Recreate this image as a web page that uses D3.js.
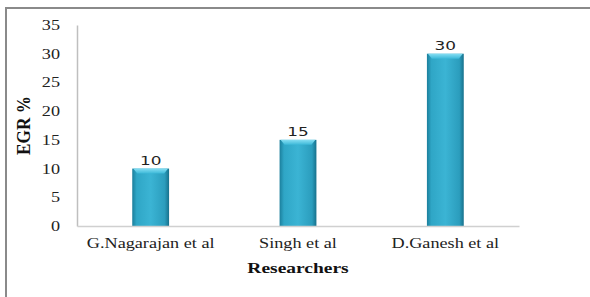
<!DOCTYPE html>
<html>
<head>
<meta charset="utf-8">
<script src="https://cdn.jsdelivr.net/npm/d3@7"></script>
<style>
  html, body { margin: 0; padding: 0; background: #fff; }
  svg { display: block; }
</style>
</head>
<body>
<div id="chart"></div>
<script>
// chart data
const researchers = ['G.Nagarajan et al', 'Singh et al', 'D.Ganesh et al'];
const egrValues = [10, 15, 30];
const yTicks = [0, 5, 10, 15, 20, 25, 30, 35];

const W = 590, H = 297;
const margin = { top: 25, right: 71, bottom: 71, left: 77 };
const width = W - margin.left - margin.right;
const height = H - margin.top - margin.bottom;
const SERIF = '"Liberation Serif", "DejaVu Serif", serif';

// the source text looks widened, so stretch it horizontally
const STRETCH = 1.3;

const svg = d3.select('#chart').append('svg')
  .attr('width', W)
  .attr('height', H);

// bar gradients
const defs = svg.append('defs');
const grad = defs.append('linearGradient').attr('id', 'barGrad')
  .attr('x1', 0).attr('x2', 1).attr('y1', 0).attr('y2', 0);
grad.append('stop').attr('offset', '0%').attr('stop-color', '#1b7f9c');
grad.append('stop').attr('offset', '12%').attr('stop-color', '#2fa6c6');
grad.append('stop').attr('offset', '50%').attr('stop-color', '#3bb4d4');
grad.append('stop').attr('offset', '88%').attr('stop-color', '#2b9dbd');
grad.append('stop').attr('offset', '100%').attr('stop-color', '#17718c');

const topGrad = defs.append('linearGradient').attr('id', 'topGrad')
  .attr('x1', 0).attr('x2', 0).attr('y1', 0).attr('y2', 1);
topGrad.append('stop').attr('offset', '0%').attr('stop-color', '#86def3');
topGrad.append('stop').attr('offset', '100%').attr('stop-color', '#3bb8d8');

// outer frame (only top and left edges are visible)
svg.append('line').attr('x1', 5).attr('x2', W).attr('y1', 8).attr('y2', 8)
  .attr('stroke', '#8a8a8a').attr('stroke-width', 2);
svg.append('line').attr('x1', 6).attr('x2', 6).attr('y1', 8).attr('y2', H)
  .attr('stroke', '#8a8a8a').attr('stroke-width', 2);

const g = svg.append('g')
  .attr('transform', `translate(${margin.left},${margin.top})`);

const x = d3.scaleBand()
  .domain(researchers)
  .range([0, width])
  .paddingInner(0.75)
  .paddingOuter(0.375);

const y = d3.scaleLinear()
  .domain([0, 35])
  .range([height, 0]);

// y axis
const yAxis = g.append('g')
  .call(d3.axisLeft(y).tickValues(yTicks).tickSize(0).tickPadding(0));
yAxis.select('.domain').attr('stroke', '#bfbfbf').attr('stroke-width', 1.5);
yAxis.selectAll('text')
  .attr('x', -17 / STRETCH)
  .attr('transform', `scale(${STRETCH},1)`)
  .attr('font-family', SERIF)
  .attr('font-size', '14px')
  .attr('fill', '#222');

// bars
const bars = g.selectAll('.bar')
  .data(egrValues)
  .enter()
  .append('g')
  .attr('class', 'bar');

bars.append('rect')
  .attr('x', (d, i) => x(researchers[i]))
  .attr('y', d => y(d))
  .attr('width', x.bandwidth())
  .attr('height', d => height - y(d))
  .attr('fill', 'url(#barGrad)');

bars.append('path')
  .attr('d', (d, i) => {
    const x0 = x(researchers[i]), x1 = x0 + x.bandwidth(), y0 = y(d);
    return `M${x0 + 1},${y0} L${x1 - 1},${y0} L${x1 - 5},${y0 + 5} L${x0 + 5},${y0 + 5} Z`;
  })
  .attr('fill', 'url(#topGrad)');

// value labels
bars.append('text')
  .attr('transform', (d, i) =>
    `translate(${x(researchers[i]) + x.bandwidth() / 2},${y(d) - 4}) scale(${STRETCH},1)`)
  .attr('text-anchor', 'middle')
  .attr('font-family', '"DejaVu Sans", sans-serif')
  .attr('font-size', '13px')
  .attr('fill', '#222')
  .text(d => d);

// x axis
const xAxis = g.append('g')
  .attr('transform', `translate(0,${height})`)
  .call(d3.axisBottom(x).tickSize(0).tickPadding(12));
xAxis.select('.domain').attr('stroke', '#d0d0d0').attr('stroke-width', 1.5);
xAxis.selectAll('text')
  .attr('transform', `scale(${STRETCH},1)`)
  .attr('font-family', SERIF)
  .attr('font-size', '14px')
  .attr('fill', '#222');

// axis titles
svg.append('text')
  .attr('transform', `translate(${margin.left + width / 2},273) scale(${STRETCH},1)`)
  .attr('text-anchor', 'middle')
  .attr('font-family', SERIF)
  .attr('font-weight', 'bold')
  .attr('font-size', '15px')
  .attr('fill', '#111')
  .text('Researchers');

svg.append('text')
  .attr('transform', `translate(30,${margin.top + height / 2}) rotate(-90) scale(1.15,1.2)`)
  .attr('text-anchor', 'middle')
  .attr('font-family', SERIF)
  .attr('font-weight', 'bold')
  .attr('font-size', '15px')
  .attr('fill', '#111')
  .text('EGR %');
</script>
</body>
</html>
